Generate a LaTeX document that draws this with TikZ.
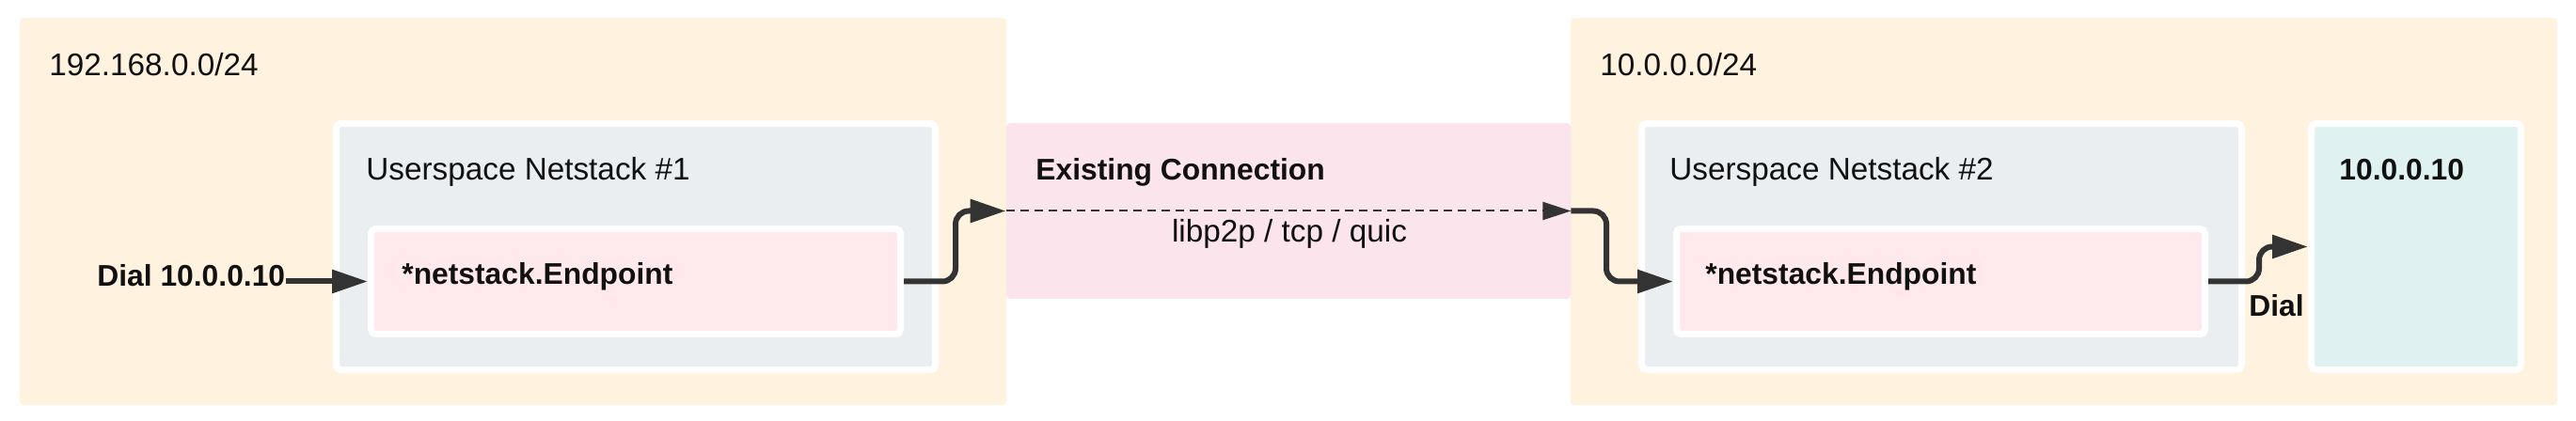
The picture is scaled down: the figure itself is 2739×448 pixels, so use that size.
\documentclass[tikz,border=0pt]{standalone}
\usepackage{fontspec}
\setmainfont{Liberation Sans}
\usetikzlibrary{arrows.meta,fit}
\definecolor{peach}{HTML}{FFF2DF}
\definecolor{connpink}{HTML}{FBE4EB}
\definecolor{eppink}{HTML}{FFE9EC}
\definecolor{nsgrey}{HTML}{EAEEF1}
\definecolor{cyanbox}{HTML}{DFF1F0}
\definecolor{edgecol}{HTML}{333333}
\definecolor{txt}{HTML}{111111}
\tikzset{
  region/.style={fill=#1, draw=none, rounded corners=2pt, inner sep=0pt},
  panel/.style={fill=#1, draw=white, line width=3.5pt, rounded corners=2.5pt, inner sep=0pt},
  regtxt/.style={anchor=base west, inner sep=0pt, text=txt, font=\fontsize{16.65pt}{20pt}\selectfont},
  boldtxt/.style={anchor=base west, inner sep=0pt, text=txt, font=\fontsize{15.9pt}{20pt}\selectfont\bfseries},
  flow/.style={draw=edgecol, line width=3pt, rounded corners=7pt, -{Triangle[length=19pt,width=12pt]}},
  dashflow/.style={draw=edgecol, line width=1pt, dash pattern=on 4.5pt off 3pt, -{Triangle[length=15pt,width=9.5pt]}}
}
\begin{document}
\begin{tikzpicture}[x=0.5pt,y=-0.5pt]
\useasboundingbox (0,0) rectangle (2739,448);
% regions
\node[region=peach, fit={(21,19) (1070,431)}] (left) {};
\node[region=peach, fit={(1670,19) (2719,431)}] (right) {};
\node[region=connpink, fit={(1070,131) (1670,318)}] (conn) {};
% panels
\node[panel=nsgrey, fit={(357.5,131.5) (994.5,393.5)}] (ns1) {};
\node[panel=eppink, fit={(394.5,243.5) (957.5,355.5)}] (ep1) {};
\node[panel=nsgrey, fit={(1745.5,131.5) (2383.5,393.5)}] (ns2) {};
\node[panel=eppink, fit={(1782.5,243.5) (2344.5,355.5)}] (ep2) {};
\node[panel=cyanbox, fit={(2457.5,131.5) (2680.5,393.5)}] (host) {};
% texts
\node[regtxt] (lnet) at (52,81) {192.168.0.0/24};
\node[regtxt] (rnet) at (1701,81) {10.0.0.0/24};
\node[regtxt] (ns1t) at (389,192) {Userspace Netstack \#1};
\node[regtxt] (ns2t) at (1775,192) {Userspace Netstack \#2};
\node[boldtxt] (ep1t) at (427,303) {*netstack.Endpoint};
\node[boldtxt] (ep2t) at (1813,303) {*netstack.Endpoint};
\node[boldtxt] (connt) at (1101,192) {Existing Connection};
\node[regtxt, anchor=base] (proto) at (1371,258) {libp2p / tcp / quic};
\node[boldtxt] (hostt) at (2487,192) {10.0.0.10};
\node[boldtxt] (dial1) at (103,305) {Dial 10.0.0.10};
\node[boldtxt] (dial2) at (2391,336) {Dial};
% bend coordinates
\coordinate (m1) at (1016,0);
\coordinate (m2) at (1708,0);
\coordinate (m3) at (2402,0);
% connectors
\draw[flow] (dial1.east |- ep1.west) -- (ep1.west);
\draw[flow] (ep1.east) -| (m1 |- conn.west) -- (conn.west);
\draw[dashflow] (conn.west) -- (conn.east);
\draw[flow] (conn.east) -| (m2 |- ep2.west) -- (ep2.west);
\draw[flow] (ep2.east) -| (m3 |- host.west) -- (host.west);
\end{tikzpicture}
\end{document}
